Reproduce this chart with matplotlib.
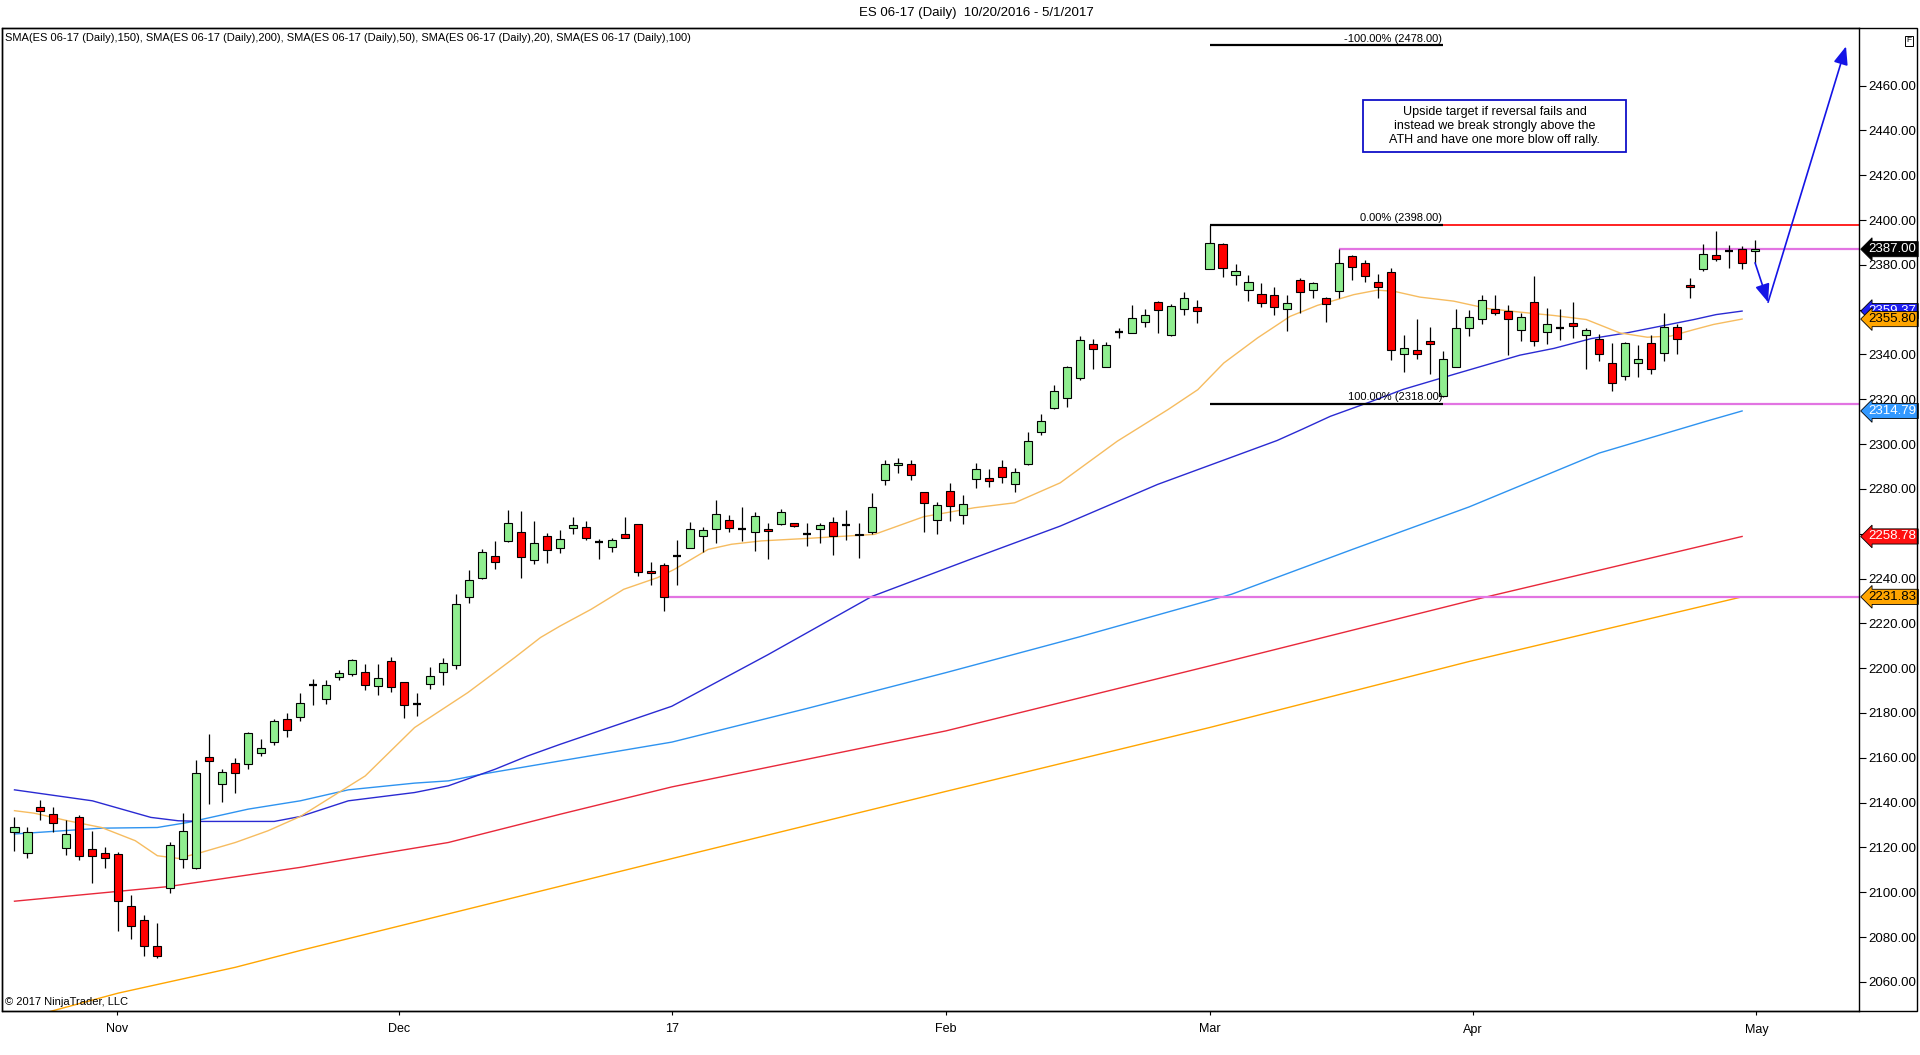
import matplotlib
matplotlib.use("Agg")
import matplotlib.pyplot as plt
from matplotlib.patches import Rectangle, FancyArrowPatch
from matplotlib.ticker import FormatStrFormatter
import numpy as np

plt.rcParams['font.family'] = ['Liberation Sans', 'DejaVu Sans']

# ---------------- data ----------------
opens = [
    2126.7, 2117.3, 2137.9, 2134.7, 2119.6, 2133.8, 2119.3, 2117.3, 2116.9, 2093.7,
    2087.5, 2076.2, 2101.7, 2114.8, 2110.7, 2160.2, 2148.5, 2157.5, 2157.4, 2162.3,
    2167.2, 2177.5, 2178.4, 2192.4, 2186.4, 2196.2, 2197.5, 2198.4, 2192.1, 2203.0,
    2194.0, 2184.0, 2193.1, 2198.3, 2201.4, 2231.9, 2240.3, 2250.2, 2256.9, 2260.9,
    2248.4, 2259.1, 2253.8, 2262.7, 2263.1, 2256.3, 2254.2, 2260.0, 2264.5, 2243.5,
    2246.2, 2250.1, 2253.8, 2259.1, 2262.2, 2266.1, 2262.0, 2260.9, 2262.2, 2264.5,
    2264.9, 2260.0, 2262.2, 2265.3, 2264.0, 2260.0, 2260.9, 2284.2, 2290.8, 2291.2,
    2278.7, 2266.1, 2279.2, 2268.5, 2284.5, 2284.7, 2289.9, 2282.0, 2291.2, 2305.5,
    2316.2, 2320.6, 2329.5, 2344.8, 2334.4, 2350.0, 2349.7, 2354.7, 2363.3, 2348.7,
    2360.4, 2361.3, 2378.3, 2389.4, 2375.6, 2368.9, 2367.1, 2366.7, 2360.4, 2373.4,
    2368.9, 2365.0, 2368.5, 2383.8, 2380.6, 2372.5, 2377.0, 2340.0, 2342.2, 2346.2,
    2321.4, 2334.6, 2352.0, 2356.0, 2360.1, 2359.3, 2350.7, 2363.5, 2350.1, 2352.0,
    2354.1, 2348.9, 2346.7, 2336.0, 2330.6, 2336.3, 2344.9, 2340.7, 2352.2, 2371.2,
    2378.3, 2384.5, 2386.0, 2387.2, 2386.1]

highs = [
    2133.4, 2128.9, 2141.1, 2137.9, 2132.2, 2134.4, 2127.4, 2120.0, 2117.8, 2098.8,
    2089.8, 2086.3, 2122.2, 2135.3, 2158.8, 2170.5, 2155.2, 2160.0, 2171.7, 2168.3,
    2177.5, 2179.9, 2188.8, 2195.0, 2194.5, 2199.1, 2204.0, 2201.7, 2201.7, 2205.1,
    2194.0, 2189.1, 2200.7, 2204.4, 2233.2, 2243.7, 2253.0, 2256.6, 2270.7, 2270.3,
    2265.5, 2260.5, 2261.5, 2267.3, 2265.5, 2257.8, 2257.9, 2267.3, 2264.5, 2247.5,
    2247.1, 2257.0, 2265.2, 2262.8, 2274.9, 2268.2, 2271.9, 2269.5, 2264.9, 2271.1,
    2264.9, 2264.9, 2264.9, 2267.4, 2270.4, 2264.9, 2278.3, 2293.1, 2293.9, 2293.1,
    2278.7, 2274.3, 2282.7, 2277.5, 2291.6, 2289.0, 2292.7, 2289.4, 2305.5, 2313.5,
    2326.2, 2335.0, 2348.1, 2346.9, 2345.6, 2351.8, 2361.9, 2360.1, 2363.7, 2362.7,
    2367.7, 2364.2, 2398.0, 2389.7, 2380.4, 2375.3, 2371.9, 2370.0, 2366.4, 2374.1,
    2372.3, 2365.6, 2387.0, 2384.6, 2382.1, 2375.7, 2378.6, 2348.5, 2356.0, 2352.3,
    2341.5, 2360.5, 2359.8, 2366.7, 2366.7, 2362.0, 2358.6, 2374.9, 2360.8, 2360.4,
    2363.3, 2351.9, 2349.2, 2344.9, 2345.6, 2344.4, 2348.9, 2358.3, 2353.4, 2374.2,
    2389.3, 2395.0, 2388.7, 2388.3, 2391.0]

lows = [
    2118.5, 2115.1, 2132.4, 2127.0, 2116.7, 2114.5, 2104.1, 2110.8, 2082.9, 2079.2,
    2071.7, 2070.7, 2099.7, 2111.0, 2110.4, 2139.6, 2140.4, 2144.5, 2155.2, 2160.8,
    2165.7, 2169.5, 2176.4, 2183.5, 2183.9, 2194.7, 2196.5, 2190.3, 2187.9, 2189.4,
    2177.8, 2178.7, 2190.6, 2192.3, 2199.5, 2229.1, 2240.0, 2244.1, 2256.3, 2240.3,
    2246.5, 2246.9, 2251.4, 2259.7, 2257.2, 2248.6, 2251.8, 2258.2, 2241.1, 2237.1,
    2225.5, 2237.1, 2253.6, 2251.8, 2255.9, 2260.8, 2256.7, 2252.3, 2248.6, 2263.9,
    2263.0, 2254.5, 2256.0, 2250.5, 2257.2, 2249.0, 2259.7, 2281.7, 2287.2, 2284.2,
    2260.7, 2260.0, 2265.6, 2264.2, 2280.2, 2280.8, 2282.7, 2278.6, 2290.5, 2304.0,
    2315.6, 2316.6, 2328.8, 2333.6, 2334.3, 2347.4, 2349.7, 2352.3, 2349.6, 2348.4,
    2357.5, 2354.1, 2378.3, 2374.6, 2371.1, 2364.0, 2361.0, 2357.8, 2350.6, 2358.5,
    2365.2, 2354.6, 2365.0, 2373.1, 2372.4, 2365.3, 2337.6, 2332.3, 2338.2, 2331.4,
    2321.0, 2334.6, 2348.2, 2353.7, 2357.8, 2339.7, 2345.9, 2343.7, 2344.8, 2346.4,
    2347.4, 2333.3, 2337.3, 2323.9, 2328.4, 2330.0, 2331.1, 2337.3, 2340.3, 2365.2,
    2377.4, 2381.9, 2378.6, 2378.2, 2380.6]

closes = [
    2128.9, 2126.7, 2136.4, 2130.7, 2125.8, 2116.0, 2116.0, 2115.1, 2095.9, 2084.8,
    2075.9, 2071.7, 2121.2, 2127.2, 2153.0, 2158.6, 2153.5, 2153.0, 2171.2, 2164.5,
    2176.6, 2172.5, 2184.6, 2192.4, 2192.6, 2198.0, 2203.5, 2192.5, 2195.8, 2191.6,
    2183.6, 2184.0, 2196.3, 2202.4, 2228.8, 2239.5, 2252.0, 2247.5, 2264.9, 2249.8,
    2256.0, 2252.9, 2257.8, 2264.0, 2258.1, 2256.3, 2257.3, 2258.2, 2243.1, 2242.6,
    2231.83, 2250.1, 2262.2, 2261.7, 2268.9, 2262.7, 2262.0, 2268.0, 2261.3, 2269.8,
    2263.4, 2260.0, 2263.7, 2259.0, 2264.0, 2259.5, 2272.0, 2291.2, 2291.6, 2286.1,
    2273.8, 2272.6, 2272.3, 2273.4, 2289.0, 2283.6, 2285.4, 2287.6, 2301.5, 2310.4,
    2323.9, 2334.3, 2346.6, 2342.6, 2344.4, 2350.0, 2356.4, 2357.8, 2360.0, 2361.8,
    2365.4, 2359.4, 2389.9, 2378.7, 2377.4, 2372.5, 2363.1, 2361.3, 2363.1, 2368.0,
    2371.7, 2362.7, 2380.6, 2379.1, 2374.8, 2370.3, 2341.8, 2342.7, 2340.0, 2344.5,
    2337.8, 2351.6, 2356.8, 2364.5, 2358.7, 2356.0, 2356.5, 2346.2, 2353.4, 2352.0,
    2352.5, 2351.1, 2340.4, 2327.3, 2344.9, 2337.8, 2333.3, 2352.2, 2347.1, 2370.2,
    2385.0, 2382.8, 2386.0, 2380.6, 2387.0]

# moving averages (bar index, value)
sma20_x = [0, 1.5, 4.1, 6.7, 9.3, 11, 12.6, 14.4, 17, 19.5, 22, 27, 30.8, 34.9, 38.5, 40.5,
           42, 44.4, 46.9, 49.5, 50.8, 53.4, 55.2, 57.5, 61, 66.2, 70, 73.9, 77, 80.5, 84.9,
           88.8, 91.1, 93.1, 95.7, 98.2, 100.3, 103.1, 104.9, 106.2, 108.2, 110.8, 113.4,
           115.9, 118.5, 121, 123.6, 125.7, 127.5, 129.3, 130.8, 133]
sma20_y = [2136.4, 2135.3, 2131.9, 2128.9, 2123.0, 2116.3, 2115.1, 2117.8, 2122.2, 2127.4,
           2133.8, 2151.9, 2173.5, 2189.1, 2204.7, 2213.7, 2218.8, 2226.3, 2235.2, 2240.4,
           2244.1, 2253.0, 2255.3, 2256.8, 2257.9, 2259.7, 2267.6, 2271.6, 2273.8, 2282.7,
           2301.3, 2315.4, 2324.3, 2336.2, 2347.4, 2357.0, 2361.9, 2366.7, 2368.7, 2368.2,
           2365.6, 2363.8, 2360.5, 2358.9, 2357.4, 2355.6, 2349.6, 2347.7, 2348.2, 2351.1,
           2353.4, 2355.80]
sma50_x = [0, 6, 10.5, 12.6, 14.4, 20, 22, 25.7, 30.8, 33.4, 37, 39.5, 42, 50.6, 58, 66,
           73.6, 80.5, 88, 97.2, 99.2, 101.3, 104.4, 106.9, 110.8, 113.4, 115.9, 118.5,
           121.4, 124.1, 126.7, 129.3, 131, 133]
sma50_y = [2145.7, 2140.8, 2133.4, 2131.9, 2131.6, 2131.6, 2133.8, 2140.8, 2144.5, 2147.5,
           2154.9, 2160.8, 2166.0, 2183.0, 2206.0, 2232.0, 2248.6, 2263.4, 2282.0, 2301.6,
           2306.8, 2312.4, 2318.9, 2324.4, 2331.1, 2335.5, 2339.7, 2342.7, 2347.1, 2349.6,
           2352.6, 2355.6, 2357.8, 2359.37]
sma100_x = [0, 6.7, 11, 13.4, 18, 22, 25.7, 30.8, 33.4, 36, 42, 50.6, 61, 71.7, 82, 93.7,
            103, 112, 122, 130.3, 133]
sma100_y = [2126.0, 2128.6, 2128.9, 2131.2, 2137.1, 2140.8, 2145.7, 2148.7, 2149.7, 2152.7,
            2158.6, 2167.0, 2182.0, 2198.0, 2214.0, 2233.0, 2253.0, 2272.0, 2296.0, 2310.3,
            2314.79]
sma150_x = [0, 11.8, 22, 25.7, 33.4, 42, 50.6, 71.7, 92, 112, 133]
sma150_y = [2096.0, 2102.5, 2111.1, 2114.8, 2122.2, 2134.8, 2147.0, 2172.0, 2201.0, 2230.0,
            2258.78]
sma200_x = [0, 8, 17, 22, 50.6, 71.7, 92, 112, 133]
sma200_y = [2042.5, 2055.0, 2066.5, 2074.0, 2115.0, 2145.0, 2173.5, 2203.0, 2231.83]

month_labels = ["Nov", "Dec", "17", "Feb", "Mar", "Apr", "May"]
month_pos = [7.9, 29.6, 50.6, 71.7, 92.0, 112.3, 134.1]

fib_levels = [2478.0, 2398.0, 2318.0]
fib_texts = ["-100.00% (2478.00)", "0.00% (2398.00)", "100.00% (2318.00)"]
fib_start, fib_end = 92, 110
hline_2387_start = 102
hline_2231_start = 50
hline_2231 = 2231.83
hline_2387 = 2387.0

arrow1 = [(134.0, 2380.9), (135.0, 2363.3)]
arrow2 = [(135.0, 2363.3), (141.0, 2477.5)]

note_text = ("Upside target if reversal fails and\n"
             "instead we break strongly above the\n"
             "ATH and have one more blow off rally.")
note_box = (103.8, 2430.4, 20.3, 23.2)

title = "ES 06-17 (Daily)  10/20/2016 - 5/1/2017"
legend_text = ("SMA(ES 06-17 (Daily),150), SMA(ES 06-17 (Daily),200), SMA(ES 06-17 (Daily),50), "
               "SMA(ES 06-17 (Daily),20), SMA(ES 06-17 (Daily),100)")

# ---------------- figure ----------------
W, H = 1920, 1055
fig = plt.figure(figsize=(W / 100, H / 100), dpi=100)
fig.patch.set_facecolor("white")
ax_left, ax_right, ax_top, ax_bot = 1.5, 1859, 28, 1011
ax = fig.add_axes([ax_left / W, 1 - ax_bot / H, (ax_right - ax_left) / W, (ax_bot - ax_top) / H])

n = len(closes)
x = np.arange(n)
o = np.array(opens); h = np.array(highs); l = np.array(lows); c = np.array(closes)

ax.vlines(x, l, h, color="black", linewidth=0.9, zorder=3)
bw = 0.62
body_lo = np.minimum(o, c)
body_hi = np.maximum(o, c)
is_doji = np.abs(c - o) < 0.3
cols = np.where(c > o, "#90EE90", "#FF0000")
nd = ~is_doji
ax.bar(x[nd], (body_hi - body_lo)[nd], bottom=body_lo[nd], width=bw, color=cols[nd],
       edgecolor="black", linewidth=0.8, zorder=4)
ax.hlines(c[is_doji], x[is_doji] - bw / 2, x[is_doji] + bw / 2, color="black", linewidth=1.6, zorder=4)

# SMAs
ax.plot(sma200_x, sma200_y, color="#FFA500", lw=1.0, zorder=2)
ax.plot(sma150_x, sma150_y, color="#E8283A", lw=1.0, zorder=2)
ax.plot(sma100_x, sma100_y, color="#2E93F0", lw=1.0, zorder=2)
ax.plot(sma50_x, sma50_y, color="#2A2AD2", lw=1.0, zorder=2)
ax.plot(sma20_x, sma20_y, color="#F6BC60", lw=1.0, zorder=2)

xmin, xmax = -1.0, 142.0
ymin, ymax = 2047.0, 2485.7

# horizontal lines
ax.hlines(hline_2231, hline_2231_start, xmax, color="#E274E2", lw=1.6, zorder=2.5)
ax.hlines(hline_2387, hline_2387_start, xmax, color="#E274E2", lw=1.6, zorder=2.5)
ax.hlines(fib_levels[2], fib_end, xmax, color="#E274E2", lw=1.6, zorder=2.5)
ax.hlines(fib_levels[1], fib_end, xmax, color="#FF1010", lw=1.3, zorder=2.5)
for lev, txt in zip(fib_levels, fib_texts):
    ax.hlines(lev, fib_start, fib_end, color="black", lw=1.6, zorder=2.5)
    ax.text(fib_end - 0.1, lev + 0.6, txt, ha="right", va="bottom", fontsize=8, zorder=6)

# arrows
for a in (arrow1, arrow2):
    ax.add_patch(FancyArrowPatch(a[0], a[1], arrowstyle="-|>,head_length=0.55,head_width=0.22",
                                 mutation_scale=20, color="#1414E6", lw=1.2,
                                 shrinkA=0, shrinkB=0, zorder=6, clip_on=False))

# note box
ax.add_patch(Rectangle((note_box[0], note_box[1]), note_box[2], note_box[3], facecolor="white",
                       edgecolor="#1010C8", lw=1.3, zorder=5))
ax.text(note_box[0] + note_box[2] / 2, note_box[1] + note_box[3] / 2, note_text, ha="center",
        va="center", fontsize=9, linespacing=1.22, zorder=6)

ax.set_xlim(xmin, xmax)
ax.set_ylim(ymin, ymax)
ax.yaxis.tick_right()
ax.set_yticks(np.arange(2060, 2461, 20))
ax.yaxis.set_major_formatter(FormatStrFormatter("%.2f"))
ax.tick_params(axis="y", direction="out", length=5, width=0.8, labelsize=9.5, pad=1.5)
ax.set_xticks(month_pos)
ax.set_xticklabels(month_labels)
ax.tick_params(axis="x", direction="out", length=3, width=0.8, labelsize=9, pad=6)
for s in ax.spines.values():
    s.set_linewidth(1.0)
    s.set_color("black")

# price flags on the axis
flags = [
    (closes[-1], "black", "white"),
    (sma50_y[-1], "#1E1EF0", "white"),
    (sma20_y[-1], "#FFA500", "black"),
    (sma100_y[-1], "#3399FF", "white"),
    (sma150_y[-1], "#FF1010", "white"),
    (sma200_y[-1], "#FFA500", "black"),
]
for val, fc, tc in flags:
    ax.annotate(f"{val:.2f}", xy=(1.0, val), xycoords=ax.get_yaxis_transform(),
                xytext=(7, 0), textcoords="offset points", ha="left", va="center",
                fontsize=9.5, color=tc, zorder=10, annotation_clip=False,
                bbox=dict(boxstyle="larrow,pad=0.12", fc=fc, ec="black", lw=0.6))

# texts
fig.text(976 / W, 1 - 13 / H, title, ha="center", va="center", fontsize=9.5)
ax.text(4 / W * W / (ax_right - ax_left) * 0 + 0.002, 1 - (38 - ax_top) / (ax_bot - ax_top), legend_text,
        transform=ax.transAxes, ha="left", va="center", fontsize=8)
ax.text(0.002, (ax_bot - 1002) / (ax_bot - ax_top), "\u00a9 2017 NinjaTrader, LLC",
        transform=ax.transAxes, ha="left", va="center", fontsize=8)

# outer frame and F box
fig.add_artist(Rectangle((ax_left / W, 1 - ax_bot / H), (1917 - ax_left) / W, (ax_bot - ax_top) / H,
                         transform=fig.transFigure, fill=False, lw=1.0, ec="black"))
fig.text(1909 / W, 1 - 41 / H, "F", ha="center", va="center", fontsize=6,
         bbox=dict(boxstyle="square,pad=0.2", fc="white", ec="black", lw=0.7))

fig.savefig("out.png", dpi=100)
